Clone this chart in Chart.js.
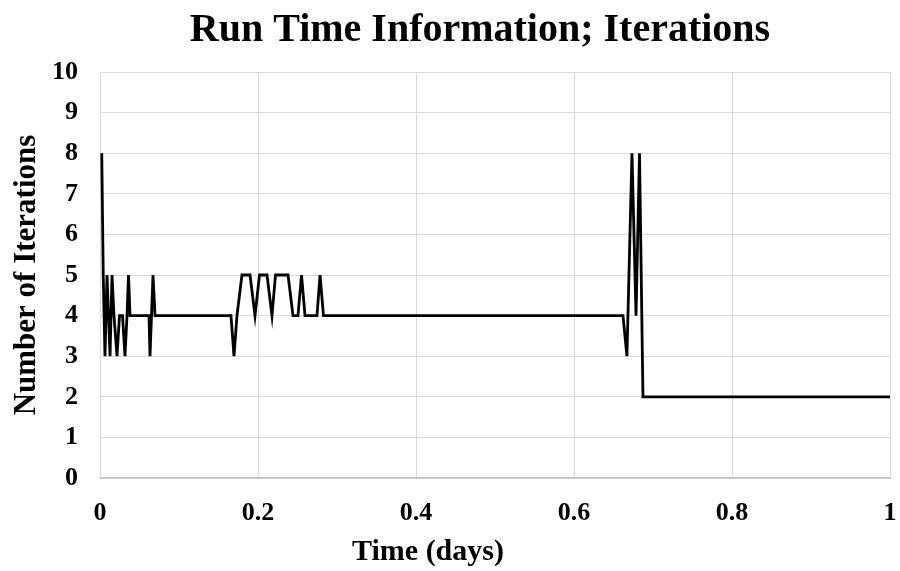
<!DOCTYPE html>
<html>
<head>
<meta charset="utf-8">
<script src="https://cdn.jsdelivr.net/npm/chart.js@4/dist/chart.umd.min.js"></script>
<style>
  html,body{margin:0;padding:0;background:#fff;}
  #wrap{width:900px;height:571px;}
</style>
</head>
<body>
<div id="wrap"><canvas id="runChart" width="900" height="571"></canvas></div>
<script>
const chartTitle='Run Time Information; Iterations';
const xTitle='Time (days)';
const yTitle='Number of Iterations';

// time in days (x) and number of iterations (y)
const timeDays=[0.0022,0.0041,0.0063,0.0089,0.0127,0.0152,0.0177,0.0215,0.0247,0.0285,0.0316,0.0342,0.0361,0.038,
  0.062,0.0633,0.0671,0.0696,
  0.1658,0.1696,0.1734,0.1797,0.1899,0.1962,0.2019,0.2114,0.2177,0.2222,0.2380,0.2443,0.2506,0.2551,0.2595,0.2747,0.2785,0.2829,
  0.662,0.667,0.6734,0.6785,0.6829,0.6873,1.0];
const iterations=[8,5,3,5,3,5,4,3,4,4,3,4,5,4,
  4,3,5,4,
  4,3,4,5,5,4,5,5,4,5,5,4,4,5,4,4,5,4,
  4,3,8,4,8,2,2];

const xTicks=[0,0.2,0.4,0.6,0.8,1];
const yTicks=[0,1,2,3,4,5,6,7,8,9,10];

const serif='"Liberation Serif","Times New Roman",serif';

const textPlugin={
  id:'textPlugin',
  afterDraw(chart){
    const {ctx,chartArea:a}=chart;
    ctx.save();
    ctx.fillStyle='#000';
    ctx.textAlign='center';
    ctx.textBaseline='alphabetic';
    ctx.font='bold 40px '+serif;
    ctx.fillText(chartTitle,480,41);
    ctx.font='bold 30px '+serif;
    ctx.fillText(xTitle,428,560);
    ctx.font='bold 31px '+serif;
    ctx.translate(35,(a.top+a.bottom)/2);
    ctx.rotate(-Math.PI/2);
    ctx.fillText(yTitle,0,0);
    ctx.restore();
  }
};

new Chart(document.getElementById('runChart'),{
  type:'line',
  data:{datasets:[{
    data:timeDays.map((t,i)=>({x:t,y:iterations[i]})),
    borderColor:'#000',borderWidth:2.8,pointRadius:0,tension:0,fill:false
  }]},
  options:{
    responsive:false,animation:false,
    layout:{padding:{top:72,right:10,left:0,bottom:0}},
    plugins:{legend:{display:false},tooltip:{enabled:false},title:{display:false}},
    scales:{
      x:{type:'linear',min:0,max:1,
        afterBuildTicks:s=>{s.ticks=xTicks.map(v=>({value:v}));},
        afterFit:s=>{s.height=93;s.paddingLeft=0;s.paddingRight=0;},
        grid:{color:'#d9d9d9',lineWidth:1,drawTicks:false},
        border:{color:'#bfbfbf',width:1.5},
        ticks:{padding:20,color:'#000',font:{family:serif,size:26,weight:'bold'},maxRotation:0,
          callback:v=>String(v)}},
      y:{min:0,max:10,
        afterBuildTicks:s=>{s.ticks=yTicks.map(v=>({value:v}));},
        afterFit:s=>{s.width=100;},
        grid:{color:'#d9d9d9',lineWidth:1,drawTicks:false},
        border:{color:'#d9d9d9',width:1},
        ticks:{padding:22,color:'#000',font:{family:serif,size:26,weight:'bold'}}}
    }
  },
  plugins:[textPlugin]
});
</script>
</body>
</html>
